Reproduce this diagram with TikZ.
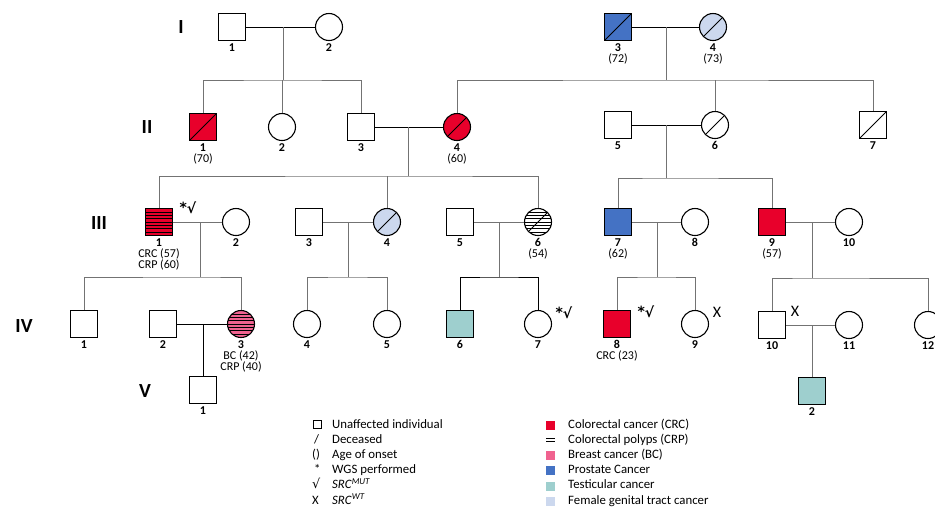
\documentclass[tikz,border=0pt]{standalone}
\usepackage{fontspec}
\setmainfont{Carlito}
\newfontfamily\symfont{DejaVu Sans}
\usetikzlibrary{calc}

\definecolor{crc}{HTML}{E8002B}
\definecolor{bc}{HTML}{F0628F}
\definecolor{prc}{HTML}{4472C4}
\definecolor{tc}{HTML}{9ECFCE}
\definecolor{fgt}{HTML}{CCD8EE}

\newcommand{\deadmark}{\draw[line width=0.8pt] (path picture bounding box.south west) -- (path picture bounding box.north east);}
\newcommand{\polypmark}{\foreach \k in {1,...,7}{\draw[line width=0.6pt] ($(path picture bounding box.south west)!\k/8!(path picture bounding box.north west)$) -- ($(path picture bounding box.south east)!\k/8!(path picture bounding box.north east)$);}}

\begin{document}
\begin{tikzpicture}[x=1pt, y=-1pt,
  male/.style={draw, line width=1.1pt, minimum size=27pt, inner sep=0pt},
  female/.style={male, circle},
  dead/.style={path picture=\deadmark},
  polyps/.style={path picture=\polypmark},
  polypsdead/.style={path picture={\polypmark\deadmark}},
  num/.style={font=\fontsize{12}{11}\selectfont, align=center, inner sep=2pt},
  gen/.style={font=\fontsize{20}{20}\selectfont\bfseries},
  rel/.style={draw=black!55, line width=0.8pt},
  bond/.style={draw=black, line width=0.95pt},
  note/.style={font=\fontsize{14}{14}\selectfont, inner sep=0pt},
  leg/.style={font=\fontsize{12.8}{13}\selectfont, anchor=base west, inner sep=0pt},
  swatch/.style={minimum size=9pt, inner sep=0pt}
]
\useasboundingbox (0,0) rectangle (935,507);

% generation numbers
\node[gen] (gI) at (181,27) {I};
\node[gen] (gII) at (147,127) {II};
\node[gen] (gIII) at (99,223) {III};
\node[gen] (gIV) at (24,326) {IV};
\node[gen] (gV) at (145,391) {V};

% generation I
\node[male, label={[num]below:\textbf{1}}] (I1) at (232,27) {};
\node[female, label={[num]below:\textbf{2}}] (I2) at (329,27) {};
\node[male, fill=prc, dead, label={[num]below:{\textbf{3}\\(72)}}] (I3) at (618,27) {};
\node[female, fill=fgt, dead, label={[num]below:{\textbf{4}\\(73)}}] (I4) at (713,27) {};

% generation II
\node[male, fill=crc, dead, label={[num]below:{\textbf{1}\\(70)}}] (II1) at (203,127) {};
\node[female, label={[num]below:\textbf{2}}] (II2) at (282,127) {};
\node[male, label={[num]below:\textbf{3}}] (II3) at (361,127) {};
\node[female, fill=crc, dead, label={[num]below:{\textbf{4}\\(60)}}] (II4) at (457,127) {};
\node[male, label={[num]below:\textbf{5}}] (II5) at (618,125) {};
\node[female, dead, label={[num]below:\textbf{6}}] (II6) at (715,125) {};
\node[male, dead, label={[num]below:\textbf{7}}] (II7) at (873,125) {};

% generation III
\node[male, fill=crc, polyps, label={[num]below:{\textbf{1}\\CRC (57)\\CRP (60)}}] (III1) at (159,222) {};
\node[female, label={[num]below:\textbf{2}}] (III2) at (236,222) {};
\node[male, label={[num]below:\textbf{3}}] (III3) at (309,222) {};
\node[female, fill=fgt, dead, label={[num]below:\textbf{4}}] (III4) at (387,222) {};
\node[male, label={[num]below:\textbf{5}}] (III5) at (460,222) {};
\node[female, polypsdead, label={[num]below:{\textbf{6}\\(54)}}] (III6) at (538,222) {};
\node[male, fill=prc, label={[num]below:{\textbf{7}\\(62)}}] (III7) at (618,222) {};
\node[female, label={[num]below:\textbf{8}}] (III8) at (695,222) {};
\node[male, fill=crc, label={[num]below:{\textbf{9}\\(57)}}] (III9) at (772,222) {};
\node[female, label={[num]below:\textbf{10}}] (III10) at (849,222) {};

% generation IV
\node[male, label={[num]below:\textbf{1}}] (IV1) at (84,324) {};
\node[male, label={[num]below:\textbf{2}}] (IV2) at (163,324) {};
\node[female, fill=bc, polyps, label={[num]below:{\textbf{3}\\BC (42)\\CRP (40)}}] (IV3) at (241,324) {};
\node[female, label={[num]below:\textbf{4}}] (IV4) at (307,324) {};
\node[female, label={[num]below:\textbf{5}}] (IV5) at (387,324) {};
\node[male, fill=tc, label={[num]below:\textbf{6}}] (IV6) at (460,324) {};
\node[female, label={[num]below:\textbf{7}}] (IV7) at (538,324) {};
\node[male, fill=crc, label={[num]below:{\textbf{8}\\CRC (23)}}] (IV8) at (617,324) {};
\node[female, label={[num]below:\textbf{9}}] (IV9) at (695,324) {};
\node[male, label={[num]below:\textbf{10}}] (IV10) at (772,325) {};
\node[female, label={[num]below:\textbf{11}}] (IV11) at (849,325) {};
\node[female, label={[num]below:\textbf{12}}] (IV12) at (928,325) {};

% generation V
\node[male, label={[num]below:\textbf{1}}] (V1) at (203,390) {};
\node[male, fill=tc, label={[num]below:\textbf{2}}] (V2) at (812,391) {};

% WGS / SRC marks
\node[note] (w1) at (188,208) {{\symfont\bfseries\raisebox{1pt}{*}√}};
\node[note] (w2) at (564,313) {{\symfont\bfseries\raisebox{1pt}{*}√}};
\node[note] (w3) at (646,312) {{\symfont\bfseries\raisebox{1pt}{*}√}};
\node[note, font=\fontsize{16}{16}\selectfont] (x1) at (717,312) {X};
\node[note, font=\fontsize{16}{16}\selectfont] (x2) at (795,311) {X};

% junctions
\coordinate (c1) at (283,27);  \coordinate (s1) at (283,80);
\coordinate (c2) at (666,27);  \coordinate (s2) at (666,80);
\coordinate (c3) at (408,127); \coordinate (s3) at (408,176);
\coordinate (c4) at (666,125); \coordinate (s4) at (666,178);
\coordinate (c5) at (200,222); \coordinate (s5) at (200,277);
\coordinate (c6) at (348,222); \coordinate (s6) at (348,277);
\coordinate (c7) at (499,222); \coordinate (s7) at (499,277);
\coordinate (c8) at (657,222); \coordinate (s8) at (657,277);
\coordinate (c9) at (812,222); \coordinate (s9) at (812,278);
\coordinate (c10) at (203,324);
\coordinate (c11) at (812,325);

% couples
\draw[bond] (I1) -- (I2);
\draw[bond] (I3) -- (I4);
\draw[bond] (II3) -- (II4);
\draw[bond] (II5) -- (II6);
\draw[rel] (III1) -- (III2);
\draw[rel] (III3) -- (III4);
\draw[rel] (III5) -- (III6);
\draw[rel] (III7) -- (III8);
\draw[rel] (III9) -- (III10);
\draw[bond] (IV2) -- (IV3);
\draw[rel] (IV10) -- (IV11);

% descent
\draw[rel] (c1) -- (s1);
\draw[rel] (II1.north) |- (s1) -| (II3.north);
\draw[rel] (II2.north) -- (II2 |- s1);
\draw[rel] (c2) -- (s2);
\draw[rel] (II4.north) |- (s2) -| (II7.north);
\draw[rel] (II6.north) -- (II6 |- s2);
\draw[rel] (c3) -- (s3);
\draw[rel] (III1.north) |- (s3) -| (III6.north);
\draw[rel] (III4.north) -- (III4 |- s3);
\draw[rel] (c4) -- (s4);
\draw[rel] (III7.north) |- (s4) -| (III9.north);
\draw[rel] (c5) -- (s5);
\draw[rel] (IV1.north) |- (s5) -| (IV3.north);
\draw[rel] (c6) -- (s6);
\draw[rel] (IV4.north) |- (s6) -| (IV5.north);
\draw[rel] (c7) -- (s7);
\draw[bond] (IV6.north) |- (s7) -| (IV7.north);
\draw[rel] (c8) -- (s8);
\draw[rel] (IV8.north) |- (s8) -| (IV9.north);
\draw[rel] (c9) -- (s9);
\draw[rel] (IV10.north) |- (s9) -| (IV12.north);
\draw[bond] (c10) -- (V1);
\draw[rel] (c11) -- (V2);

% legend, left column
\node[draw, line width=0.6pt, minimum size=8pt, inner sep=0pt] (k1) at (317,424) {};
\node[leg] (t1) at (332,428) {Unaffected individual};
\node[leg] (k2) at (314,443) {/};
\node[leg] (t2) at (332,443) {Deceased};
\node[leg] (k3) at (312,458) {()};
\node[leg] (k4) at (314,473) {*};
\node[leg] (t3) at (332,458) {Age of onset};
\node[leg] (t4) at (332,473) {WGS performed};
\node[leg] (k5) at (312,488.5) {{\symfont √}};
\node[leg] (t5) at (332,488.5) {\textit{SRC}\textsuperscript{\textit{MUT}}};
\node[leg] (k6) at (312,504) {X};
\node[leg] (t6) at (332,504) {\textit{SRC}\textsuperscript{\textit{WT}}};

% legend, right column
\node[swatch, fill=crc] (q1) at (550.5,425.5) {};
\node[leg] (r1) at (568,428) {Colorectal cancer (CRC)};
\coordinate (p1) at (546,438.5); \coordinate (p2) at (555,438.5);
\draw[line width=0.6pt] (p1) -- (p2) ($(p1)+(0,3)$) -- ($(p2)+(0,3)$);
\node[leg] (r2) at (568,443) {Colorectal polyps (CRP)};
\node[swatch, fill=bc] (q3) at (550.5,455.5) {};
\node[leg] (r3) at (568,458) {Breast cancer (BC)};
\node[swatch, fill=prc] (q4) at (550.5,470.5) {};
\node[leg] (r4) at (568,473) {Prostate Cancer};
\node[swatch, fill=tc] (q5) at (550.5,486) {};
\node[leg] (r5) at (568,488.5) {Testicular cancer};
\node[swatch, fill=fgt] (q6) at (550.5,501.5) {};
\node[leg] (r6) at (568,504) {Female genital tract cancer};
\end{tikzpicture}
\end{document}
